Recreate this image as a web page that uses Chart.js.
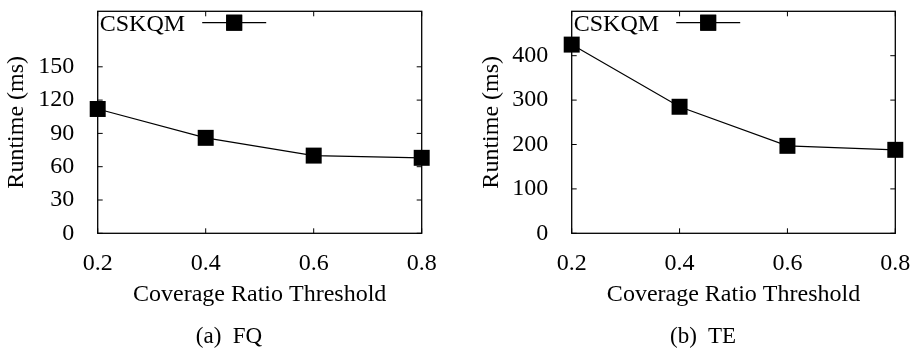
<!DOCTYPE html>
<html>
<head>
<meta charset="utf-8">
<script src="https://cdn.jsdelivr.net/npm/chart.js@4"></script>
<style>
body { margin: 0; background: #fff; }
#wrap { position: relative; width: 918px; height: 352px; }
canvas { position: absolute; top: 0; }
.cap { position: absolute; top: 323px; width: 200px; height: 24px; line-height: 24px; text-align: center;
       font: 23px "Liberation Serif", serif; color: #000; white-space: pre; }
</style>
</head>
<body>
<div id="wrap">
  <canvas id="fq" width="459" height="352" style="left:0"></canvas>
  <canvas id="te" width="459" height="352" style="left:459px"></canvas>
  <div class="cap" style="left:129px">(a)  FQ</div>
  <div class="cap" style="left:603px">(b)  TE</div>
</div>
<script>
var coverage = [0.2, 0.4, 0.6, 0.8];
var fqRuntime = [112, 86, 70, 68];
var teRuntime = [425, 285, 197, 188];
var fqTicks = [0, 30, 60, 90, 120, 150];
var teTicks = [0, 100, 200, 300, 400];
var seriesName = 'CSKQM';

Chart.defaults.font.family = '"Liberation Serif", serif';
Chart.defaults.color = '#000';

// box frame with inward ticks (drawn under the markers)
var framePlugin = {
  id: 'frame',
  beforeDatasetsDraw: function(chart) {
    var ctx = chart.ctx, a = chart.chartArea;
    var xs = chart.scales.x, ys = chart.scales.y;
    ctx.save();
    ctx.strokeStyle = '#000';
    ctx.lineWidth = 1;
    ctx.beginPath();
    xs.ticks.forEach(function(t) {
      var px = xs.getPixelForValue(t.value);
      ctx.moveTo(px, a.bottom); ctx.lineTo(px, a.bottom - 5);
      ctx.moveTo(px, a.top); ctx.lineTo(px, a.top + 5);
    });
    ys.ticks.forEach(function(t) {
      var py = ys.getPixelForValue(t.value);
      ctx.moveTo(a.left, py); ctx.lineTo(a.left + 5, py);
      ctx.moveTo(a.right, py); ctx.lineTo(a.right - 5, py);
    });
    ctx.stroke();
    ctx.lineWidth = 1.3;
    ctx.strokeRect(a.left, a.top, a.right - a.left, a.bottom - a.top);
    ctx.restore();
  },
  // gnuplot style key: text first, then line + marker
  afterDraw: function(chart) {
    var ctx = chart.ctx, a = chart.chartArea;
    var ds = chart.data.datasets[0];
    var ky = 22.7;
    ctx.save();
    ctx.fillStyle = '#000';
    ctx.font = '24px "Liberation Serif", serif';
    ctx.textBaseline = 'alphabetic';
    ctx.fillText(ds.label, a.left + 2, 30.5);
    ctx.strokeStyle = ds.borderColor;
    ctx.lineWidth = ds.borderWidth;
    ctx.beginPath();
    ctx.moveTo(a.left + 104.5, ky);
    ctx.lineTo(a.left + 168.5, ky);
    ctx.stroke();
    Chart.helpers.drawPoint(ctx, {pointStyle: ds.pointStyle, radius: ds.pointRadius, borderWidth: 0},
      a.left + 136.5, ky);
    ctx.fill();
    ctx.restore();
  }
};

function makeChart(id, values, yTicks, yMax, yWidth, rightPad, titleGap) {
  return new Chart(document.getElementById(id), {
    type: 'line',
    data: {
      datasets: [{
        label: seriesName,
        data: coverage.map(function(c, i) { return {x: c, y: values[i]}; }),
        borderColor: '#000',
        backgroundColor: '#000',
        borderWidth: 1.2,
        pointStyle: 'rect',
        pointRadius: 11.3,
        pointHoverRadius: 11.3,
        pointBorderWidth: 0,
        clip: false
      }]
    },
    options: {
      responsive: false,
      animation: false,
      layout: { padding: { top: 5, right: rightPad, bottom: 30, left: 0 } },
      plugins: { legend: { display: false }, tooltip: { enabled: false } },
      scales: {
        x: {
          type: 'linear',
          min: 0.2,
          max: 0.8,
          afterBuildTicks: function(s) { s.ticks = coverage.map(function(v) { return {value: v}; }); },
          afterFit: function(s) { s.height = 88.7; s.paddingLeft = 0; s.paddingRight = 0; },
          ticks: { font: { size: 24, lineHeight: 1 }, padding: 10, maxRotation: 0,
                   callback: function(v) { return v.toFixed(1); } },
          grid: { display: false },
          border: { display: false },
          title: { display: true, text: 'Coverage Ratio Threshold',
                   font: { size: 24, lineHeight: 1 }, padding: { bottom: 15 } }
        },
        y: {
          min: 0,
          max: yMax,
          afterBuildTicks: function(s) { s.ticks = yTicks.map(function(v) { return {value: v}; }); },
          afterFit: function(s) { s.width = yWidth; s.paddingTop = 0; s.paddingBottom = 0; },
          ticks: { font: { size: 24, lineHeight: 1 }, padding: 15.5 },
          grid: { display: false },
          border: { display: false },
          title: { display: true, text: 'Runtime (ms)',
                   font: { size: 24, lineHeight: 1 }, padding: { top: titleGap } }
        }
      }
    },
    plugins: [framePlugin]
  });
}

makeChart('fq', fqRuntime, fqTicks, 200, 97.7, 37.3, 5);
makeChart('te', teRuntime, teTicks, 500, 112.7, 22.7, 20.7);
</script>
</body>
</html>
